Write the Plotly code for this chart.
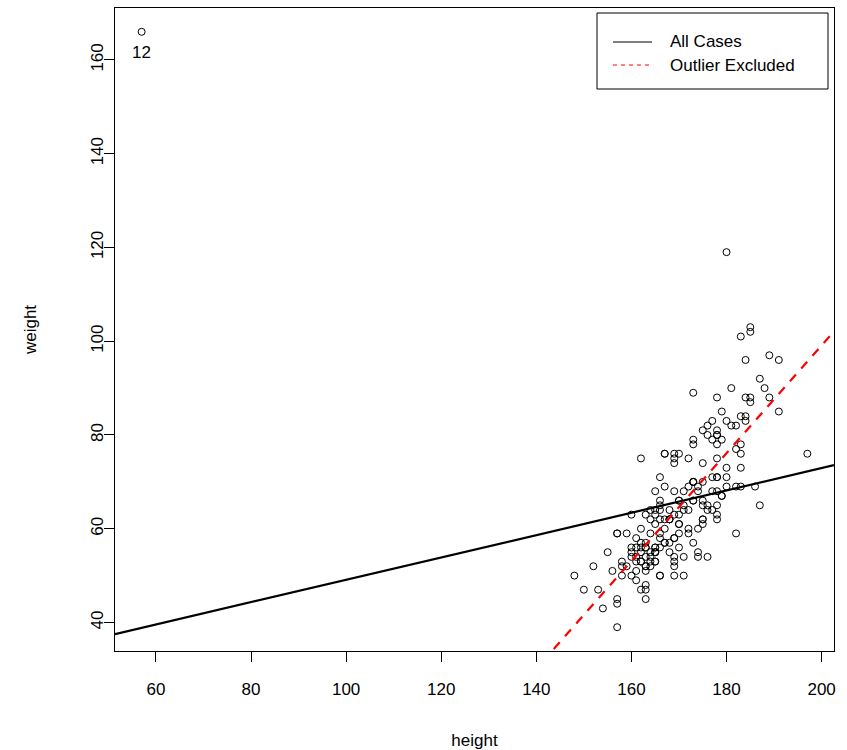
import numpy as np
import plotly.graph_objects as go

# Davis study: measured height (cm) and weight (kg) of 200 people
height = [
    182, 161, 161, 177, 157, 170, 167, 186, 178, 171, 175, 57, 161, 168, 163, 166, 187, 168, 197, 175,
    180, 170, 175, 173, 171, 166, 169, 166, 157, 183, 166, 178, 173, 164, 169, 176, 166, 174, 178, 187,
    164, 178, 163, 183, 179, 160, 180, 161, 174, 162, 182, 165, 169, 185, 177, 176, 170, 183, 172, 173,
    165, 177, 180, 173, 189, 162, 165, 164, 158, 178, 175, 173, 165, 163, 166, 171, 160, 160, 182, 183,
    165, 168, 169, 167, 170, 182, 178, 165, 163, 162, 173, 161, 184, 180, 189, 165, 185, 169, 159, 155,
    164, 178, 163, 163, 175, 164, 152, 167, 166, 166, 183, 179, 174, 179, 167, 168, 184, 184, 169, 178,
    178, 167, 178, 165, 179, 169, 153, 157, 171, 157, 166, 185, 160, 148, 177, 162, 172, 167, 188, 191,
    175, 163, 165, 176, 171, 160, 165, 157, 173, 184, 168, 162, 150, 162, 163, 169, 172, 170, 169, 167,
    163, 161, 162, 172, 163, 159, 170, 166, 191, 158, 169, 163, 170, 176, 168, 178, 174, 170, 178, 174,
    176, 154, 181, 165, 173, 162, 172, 169, 183, 158, 185, 173, 164, 156, 164, 175, 180, 175, 181, 177,
]
weight = [
    77, 58, 53, 68, 59, 76, 76, 69, 71, 65, 70, 166, 51, 64, 52, 65, 92, 62, 76, 61,
    119, 61, 65, 66, 54, 50, 63, 58, 39, 101, 71, 75, 79, 52, 68, 64, 56, 69, 88, 65,
    54, 80, 63, 78, 85, 54, 73, 49, 54, 75, 82, 56, 74, 102, 64, 65, 66, 73, 75, 57,
    68, 71, 71, 78, 97, 60, 64, 64, 52, 80, 62, 66, 55, 56, 50, 50, 50, 63, 69, 69,
    61, 55, 53, 60, 56, 59, 62, 53, 57, 57, 70, 56, 84, 69, 88, 56, 103, 50, 52, 55,
    55, 63, 47, 45, 62, 53, 52, 57, 64, 59, 84, 79, 55, 67, 76, 62, 83, 96, 75, 65,
    78, 69, 68, 55, 67, 52, 47, 45, 68, 44, 62, 87, 56, 50, 83, 53, 64, 62, 90, 85,
    66, 52, 53, 54, 64, 55, 55, 59, 70, 88, 57, 47, 47, 55, 48, 54, 69, 59, 58, 57,
    51, 54, 53, 59, 56, 59, 63, 66, 96, 53, 76, 54, 61, 82, 62, 71, 60, 66, 81, 68,
    80, 43, 82, 63, 70, 56, 60, 58, 76, 50, 88, 89, 59, 51, 62, 74, 83, 81, 90, 79,
]
outlier_case = 12
legend_labels = ["All Cases", "Outlier Excluded"]

x = np.array(height, dtype=float)
y = np.array(weight, dtype=float)
keep = np.arange(len(x)) != (outlier_case - 1)

# least-squares fits with and without the outlying case
b_all = np.polyfit(x, y, 1)
b_excl = np.polyfit(x[keep], y[keep], 1)

# R-style axis limits: data range padded by 4% on each side
def padded(v):
    lo, hi = v.min(), v.max()
    d = 0.04 * (hi - lo)
    return [lo - d, hi + d]

xr = padded(x)
yr = padded(y)
xline = np.array(xr)

FONT = "Liberation Sans, Arial, sans-serif"

fig = go.Figure()
fig.add_trace(go.Scatter(
    x=height, y=weight, mode="markers",
    marker=dict(symbol="circle-open", size=7, color="black", line=dict(width=1, color="black")),
    showlegend=False, hoverinfo="x+y",
))
fig.add_trace(go.Scatter(
    x=xline, y=np.polyval(b_all, xline), mode="lines",
    line=dict(color="black", width=2.2), showlegend=False, hoverinfo="skip",
))
fig.add_trace(go.Scatter(
    x=xline, y=np.polyval(b_excl, xline), mode="lines",
    line=dict(color="#ff0000", width=2.2, dash="9px,8px"), showlegend=False, hoverinfo="skip",
))

# case number written just below the outlying point
fig.add_annotation(
    x=height[outlier_case - 1], y=weight[outlier_case - 1], xref="x", yref="y",
    text=str(outlier_case), showarrow=False, yanchor="middle", yshift=-21,
    font=dict(family=FONT, size=17, color="black"),
)

# legend box drawn in pixel-derived paper coordinates
W, H = 847, 750
L, R, T, B = 115, 13, 8, 99
pw, ph = W - L - R, H - T - B
def px(xp):
    return (xp - L) / pw
def py(yp):
    return 1 - (yp - T) / ph

fig.add_shape(type="rect", xref="paper", yref="paper",
              x0=px(597), x1=px(828), y0=py(89), y1=py(13),
              line=dict(color="black", width=1), fillcolor="white", layer="above")
legend_styles = [dict(color="black", width=1), dict(color="#ff0000", width=1, dash="4px,4px")]
for i, (lab, sty) in enumerate(zip(legend_labels, legend_styles)):
    yy = 42 + i * 23
    fig.add_shape(type="line", xref="paper", yref="paper",
                  x0=px(613), x1=px(652), y0=py(yy), y1=py(yy), line=sty, layer="above")
    fig.add_annotation(xref="paper", yref="paper", x=px(668), y=py(yy),
                       xanchor="left", yanchor="middle", text=lab, showarrow=False,
                       font=dict(family=FONT, size=17, color="black"))

axis_common = dict(
    showgrid=False, zeroline=False, showline=True, mirror=True,
    linecolor="black", linewidth=1, ticks="outside", ticklen=10, tickwidth=1,
    tickcolor="black", tickfont=dict(family=FONT, size=17, color="black"),
)
fig.update_xaxes(range=xr, tickmode="array", tickvals=list(range(60, 201, 20)),
                 ticklabelstandoff=13,
                 title=dict(text="height", font=dict(family=FONT, size=17, color="black"), standoff=36),
                 **axis_common)
fig.update_yaxes(range=yr, tickmode="array", tickvals=list(range(40, 161, 20)),
                 tickangle=-90, ticklabelstandoff=-6,
                 title=dict(text="weight", font=dict(family=FONT, size=17, color="black"), standoff=47),
                 **axis_common)

fig.update_layout(
    width=W, height=H,
    margin=dict(l=L, r=R, t=T, b=B, autoexpand=False),
    paper_bgcolor="white", plot_bgcolor="white",
    showlegend=False,
)

fig.write_html("out.html")
